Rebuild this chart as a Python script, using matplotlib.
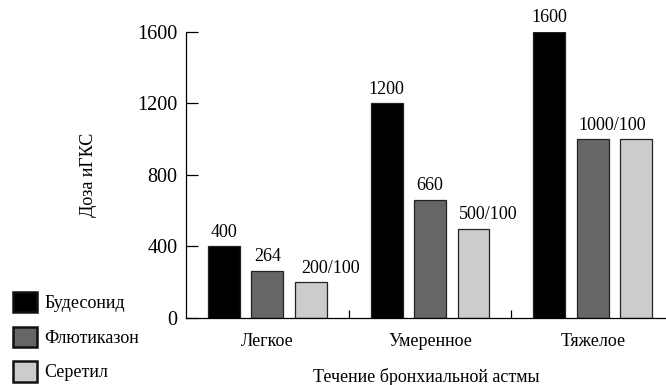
import numpy as np
import matplotlib.pyplot as plt

plt.rcParams['font.family'] = ['Liberation Serif', 'DejaVu Serif']

# Daily inhaled corticosteroid doses by asthma severity
categories = ['Легкое', 'Умеренное', 'Тяжелое']
drugs = ['Будесонид', 'Флютиказон', 'Серетил']
budesonide = [400, 1200, 1600]
fluticasone = [264, 660, 1000]
seretide = [200, 500, 1000]

budesonide_labels = ['400', '1200', '1600']
fluticasone_labels = ['264', '660', '']
seretide_labels = ['200/100', '500/100', '1000/100']

colors = ['#000000', '#666666', '#cccccc']

fig = plt.figure(figsize=(6.66, 3.85), dpi=100)
ax = fig.add_axes([0.2793, 0.174, 0.7207, 0.743])

x = np.arange(len(categories))
width = 0.196
step = 0.267
series = [budesonide, fluticasone, seretide]
labels = [budesonide_labels, fluticasone_labels, seretide_labels]

bar_groups = []
for i, (vals, col) in enumerate(zip(series, colors)):
    bars = ax.bar(x + (i - 1) * step, vals, width, color=col,
                  edgecolor='#222222', linewidth=0.9, label=drugs[i])
    bar_groups.append(bars)

# value labels above bars
for i, bars in enumerate(bar_groups):
    for j, (b, txt) in enumerate(zip(bars, labels[i])):
        if not txt:
            continue
        h = b.get_height()
        if i == 2:
            # combined dose labels sit to the right / between bars
            shift = [0.04, 0.01, -0.255][j]
            ax.annotate(txt, (b.get_x() + shift, h), xytext=(0, 4),
                        textcoords='offset points', ha='left', va='bottom',
                        fontsize=13)
        else:
            ax.annotate(txt, (b.get_x() + b.get_width() / 2, h),
                        xytext=(0, 4), textcoords='offset points',
                        ha='center', va='bottom', fontsize=13)

ax.set_xlim(-0.5, 2.45)
ax.set_ylim(0, 1600)
ax.set_yticks([0, 400, 800, 1200, 1600])
ax.tick_params(axis='y', direction='in', length=8.5, width=0.9,
               labelsize=14.5, pad=6)
ax.set_xticks(x)
ax.set_xticklabels(categories, fontsize=13)
ax.tick_params(axis='x', which='major', length=0, pad=11)
ax.set_xticks([0.5, 1.5], minor=True)
ax.tick_params(axis='x', which='minor', direction='in', length=6, width=0.9)

for s in ['top', 'right']:
    ax.spines[s].set_visible(False)
for s in ['left', 'bottom']:
    ax.spines[s].set_linewidth(0.9)

ax.set_ylabel('Доза иГКС', fontsize=13, labelpad=29)
ax.set_xlabel('Течение бронхиальной астмы', fontsize=13, labelpad=13)

leg = fig.legend(loc='upper left', bbox_to_anchor=(0.0195, 0.242),
                 frameon=False, fontsize=13, handlelength=1.35,
                 handleheight=1.35, handletextpad=0.4, labelspacing=0.8,
                 borderpad=0, borderaxespad=0)
for p in leg.get_patches():
    p.set_linewidth(1.8)
    p.set_edgecolor('#111111')

fig.savefig('out.png', dpi=100)
